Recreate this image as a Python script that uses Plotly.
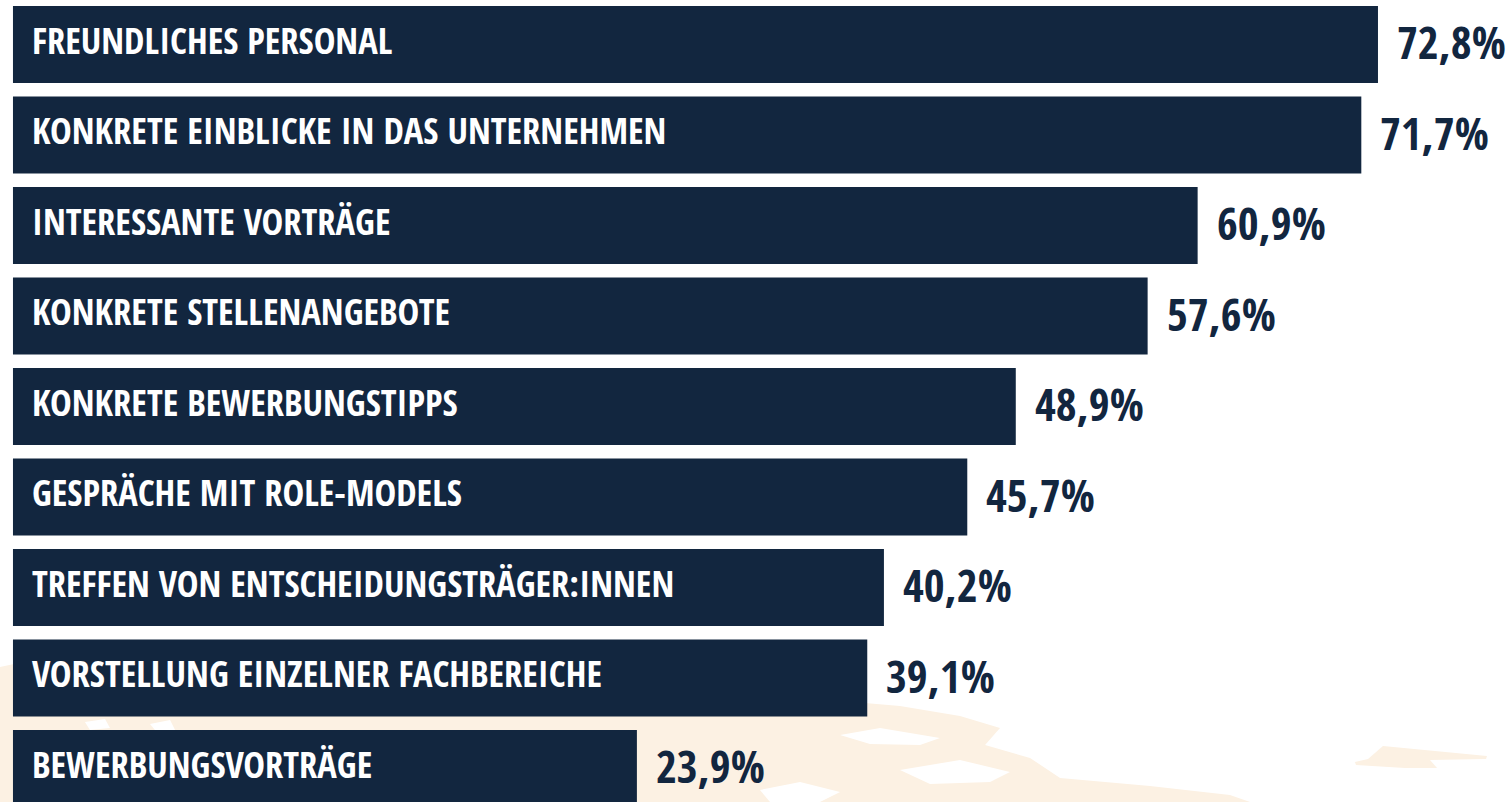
import plotly.graph_objects as go

categories = [
    "FREUNDLICHES PERSONAL",
    "KONKRETE EINBLICKE IN DAS UNTERNEHMEN",
    "INTERESSANTE VORTRÄGE",
    "KONKRETE STELLENANGEBOTE",
    "KONKRETE BEWERBUNGSTIPPS",
    "GESPRÄCHE MIT ROLE-MODELS",
    "TREFFEN VON ENTSCHEIDUNGSTRÄGER:INNEN",
    "VORSTELLUNG EINZELNER FACHBEREICHE",
    "BEWERBUNGSVORTRÄGE",
]
values = [72.8, 71.7, 60.9, 57.6, 48.9, 45.7, 40.2, 39.1, 23.9]
value_labels = [f"{v:.1f}".replace(".", ",") + "%" for v in values]

NAVY = "#12263f"
BEIGE = "#fcf1e3"
FONT = "Open Sans Condensed, Roboto Condensed, DejaVu Sans Condensed, sans-serif"
BASE = -17.27  # bars start left of zero to leave room for the label area
W, H = 1509, 802

pos = list(range(len(categories)))

fig = go.Figure()
fig.add_trace(go.Bar(
    y=pos,
    x=[v - BASE for v in values],
    base=BASE,
    orientation="h",
    width=0.851,
    marker=dict(color=NAVY, line=dict(width=0)),
    hoverinfo="skip",
))

annotations = []
for i, (c, v, t) in enumerate(zip(categories, values, value_labels)):
    annotations.append(dict(
        x=BASE, y=i, xref="x", yref="y", text=c, showarrow=False,
        xanchor="left", yanchor="middle", xshift=17, yshift=5,
        font=dict(family=FONT, size=36.5, color="white", weight="bold"),
    ))
    annotations.append(dict(
        x=v, y=i, xref="x", yref="y", text=t, showarrow=False,
        xanchor="left", yanchor="middle", xshift=17, yshift=3,
        font=dict(family=FONT, size=45, color=NAVY, weight="bold"),
    ))

fig.update_layout(
    width=W, height=H,
    margin=dict(l=0, r=0, t=0, b=0),
    paper_bgcolor="white", plot_bgcolor="rgba(0,0,0,0)",
    showlegend=False,
    annotations=annotations,
    xaxis=dict(range=[-18.126, 81.445], visible=False, fixedrange=True),
    yaxis=dict(range=[8.370, -0.4917], visible=False, fixedrange=True),
)


# faint map-like texture in the lower part of the background (decoration only)
def pixel_path(points):
    return "M " + " L ".join(f"{px / W:.4f} {1 - py / H:.4f}" for px, py in points) + " Z"


texture = [
    (BEIGE, [(0, 667), (14, 664), (200, 688), (500, 698), (830, 700), (900, 706),
             (960, 716), (1000, 728), (985, 745), (1030, 758), (1060, 778),
             (1150, 786), (1230, 795), (1250, 802), (0, 802)]),
    (BEIGE, [(1355, 762), (1368, 759), (1383, 746), (1487, 756), (1486, 759),
             (1430, 760), (1437, 768), (1405, 768), (1356, 765)]),
    ("white", [(840, 735), (880, 728), (940, 738), (920, 745), (870, 744)]),
    ("white", [(900, 770), (960, 760), (1010, 772), (990, 782), (930, 784)]),
    ("white", [(1040, 740), (1100, 736), (1130, 760), (1070, 768)]),
    ("white", [(760, 790), (800, 782), (840, 792), (820, 802), (770, 802)]),
    ("white", [(85, 722), (105, 719), (110, 728), (90, 730)]),
    ("white", [(150, 724), (170, 720), (175, 730), (155, 730)]),
]
for color, pts in texture:
    fig.add_shape(type="path", path=pixel_path(pts), xref="paper", yref="paper",
                  fillcolor=color, line=dict(width=0), layer="below")

fig.write_html("out.html", config={"displayModeBar": False},
               post_script="document.body.style.margin='0';")
